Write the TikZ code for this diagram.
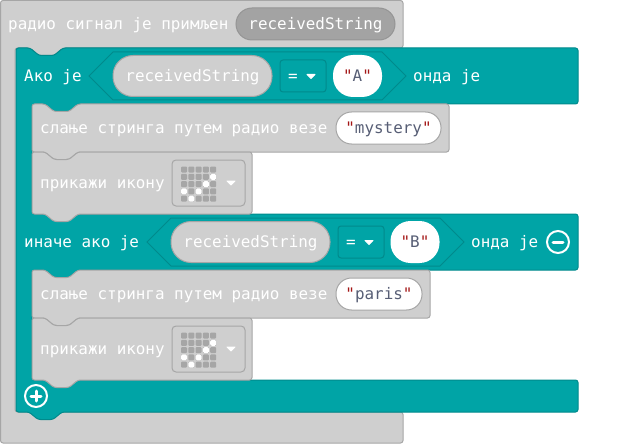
\documentclass[tikz,border=0pt]{standalone}
\usepackage{fontspec}
\usepackage{xcolor}
\setmonofont{DejaVu Sans Mono}
\definecolor{tealblk}{HTML}{00A4A6}
\definecolor{tealdark}{HTML}{008A8C}
\definecolor{greyblk}{HTML}{CFCFCF}
\definecolor{greydark}{HTML}{A6A6A6}
\definecolor{strred}{HTML}{A31515}
\definecolor{strtxt}{HTML}{575E75}
\newcommand{\notchin}{-- ++(9,7.5) -- ++(15,0) -- ++(9,-7.5)}
\newcommand{\notchout}{-- ++(-9,7.5) -- ++(-15,0) -- ++(-9,-7.5)}
\newcommand{\strval}[1]{{\color{strred}"}#1{\color{strred}"}}
\begin{document}
\begin{tikzpicture}[
  x=1pt, y=-1pt,
  txt/.style={font=\ttfamily\fontsize{15.9}{16}\selectfont, text=white, inner sep=0,
    text height=12pt, text depth=1pt},
  grblk/.style={draw=greydark, fill=greyblk, line width=1pt, rounded corners=2.5pt},
  tlblk/.style={draw=tealdark, fill=tealblk, line width=1pt, rounded corners=2.5pt},
  hexa/.style={draw=tealdark, fill=tealblk, line width=1pt},
  varpill/.style={txt, draw=greydark, fill=greyblk, line width=1pt, rounded corners=20pt,
    minimum width=159pt, minimum height=41pt},
  strpill/.style={txt, text=strtxt, draw=greydark, fill=white, line width=1pt,
    rounded corners=15.5pt, minimum height=32pt},
  strhex/.style={txt, text=strtxt, fill=white, rounded corners=20pt,
    minimum width=49pt, minimum height=42pt},
  opbox/.style={draw=tealdark, rounded corners=3pt, line width=1pt,
    minimum width=46pt, minimum height=32pt},
  iconbox/.style={draw=greydark, rounded corners=4pt, line width=1pt,
    minimum width=73pt, minimum height=46pt},
  ledoff/.style={fill=greydark, rounded corners=1pt},
  ledon/.style={fill=white, rounded corners=1.5pt},
  tri/.style={fill=white, draw=white, line width=1pt, line join=round},
  ring/.style={circle, draw=white, line width=2pt, minimum size=22pt, inner sep=0},
  bar/.style={draw=white, line width=3pt, line cap=round},
]
\useasboundingbox (0,0) rectangle (630,444);
% Hat block
\draw[grblk] (0.5,0.5) -- (403,0.5) -- (403,48) -- (63,48) \notchout -- (15,48) -- (15,412)
  -- (403,412) -- (403,443) -- (0.5,443) -- cycle;
\node[txt, anchor=west] (hatlbl) at (8,24) {радио сигнал је примљен};
\node[varpill, draw=black!10!greydark, fill=black!2!greydark, rounded corners=16pt, minimum height=32pt]
  (hatvar) at (315.5,24) {receivedString};
% If block
\draw[tlblk] (16,48) -- (30,48) \notchin -- (578,48) -- (578,104) -- (78,104) \notchout
  -- (32,104) -- (32,214) -- (578,214) -- (578,270) -- (78,270) \notchout
  -- (32,270) -- (32,380) -- (578,380) -- (578,412) -- (62,412) \notchout
  -- (16,412) -- cycle;
% Row if
\node[txt, anchor=west] (iflbl) at (24,76) {Ако је};
\draw[hexa] (89,76) -- (113,52) -- (382,52) -- (406,76) -- (382,100) -- (113,100) -- cycle;
\node[varpill] (ifvar) at (192.5,76) {receivedString};
\node[opbox] (ifop) at (303,76) {};
\node[txt] (ifeq) at (293,76) {=};
\draw[tri] (307,74.5) -- (315,74.5) -- (311,78.5) -- cycle;
\node[strhex] (ifstr) at (357.5,76) {\strval{A}};
\node[txt, anchor=west] (ifthen) at (413,76) {онда је};
% Row else if
\node[txt, anchor=west] (eliflbl) at (24,242) {иначе ако је};
\draw[hexa] (147,242) -- (171,218) -- (440,218) -- (464,242) -- (440,266) -- (171,266) -- cycle;
\node[varpill] (elifvar) at (250.5,242) {receivedString};
\node[opbox] (elifop) at (361,242) {};
\node[txt] (elifeq) at (351,242) {=};
\draw[tri] (365,240.5) -- (373,240.5) -- (369,244.5) -- cycle;
\node[strhex] (elifstr) at (415,242) {\strval{B}};
\node[txt, anchor=west] (elifthen) at (471,242) {онда је};
\node[ring] (minus) at (558,242) {};
\draw[bar] ([xshift=-5pt]minus.center) -- ([xshift=5pt]minus.center);
% Plus
\node[ring] (plus) at (36,396) {};
\draw[bar] ([xshift=-5pt]plus.center) -- ([xshift=5pt]plus.center);
\draw[bar] ([yshift=-5pt]plus.center) -- ([yshift=5pt]plus.center);
% Radio send 1
\draw[grblk] (32,104) -- (45,104) \notchin -- (449,104) -- (449,152) -- (78,152) \notchout
  -- (32,152) -- cycle;
\node[txt, anchor=west] (sendlbla) at (40,128) {слање стринга путем радио везе};
\node[strpill, minimum width=105pt] (sendstra) at (388.5,128) {\strval{mystery}};
% Show icon 1
\draw[grblk] (32,152) -- (45,152) \notchin -- (252,152) -- (252,214) -- (78,214) \notchout
  -- (32,214) -- cycle;
\node[txt, anchor=west] (iconlbla) at (40,183) {прикажи икону};
\node[iconbox] (iconboxa) at (208.5,183) {};
\begin{scope}[shift={(184,169.5)}]
  \foreach \c in {0,...,4} \foreach \r in {0,...,4}
    \fill[ledoff] (\c*7.3-3,\r*7.3-3) rectangle (\c*7.3+3,\r*7.3+3);
  \foreach \c/\r in {4/1,3/2,0/3,2/3,1/4}
    \fill[ledon] (\c*7.3-3,\r*7.3-3) rectangle (\c*7.3+3,\r*7.3+3);
\end{scope}
\draw[tri] (227,181) -- (235,181) -- (231,185) -- cycle;
% Radio send 2
\draw[grblk] (32,270) -- (45,270) \notchin -- (430,270) -- (430,318) -- (78,318) \notchout
  -- (32,318) -- cycle;
\node[txt, anchor=west] (sendlblb) at (40,294) {слање стринга путем радио везе};
\node[strpill, minimum width=86pt] (sendstrb) at (379,294) {\strval{paris}};
% Show icon 2
\draw[grblk] (32,318) -- (45,318) \notchin -- (252,318) -- (252,380) -- (78,380) \notchout
  -- (32,380) -- cycle;
\node[txt, anchor=west] (iconlblb) at (40,349) {прикажи икону};
\node[iconbox] (iconboxb) at (208.5,349) {};
\begin{scope}[shift={(184,335.5)}]
  \foreach \c in {0,...,4} \foreach \r in {0,...,4}
    \fill[ledoff] (\c*7.3-3,\r*7.3-3) rectangle (\c*7.3+3,\r*7.3+3);
  \foreach \c/\r in {4/1,3/2,0/3,2/3,1/4}
    \fill[ledon] (\c*7.3-3,\r*7.3-3) rectangle (\c*7.3+3,\r*7.3+3);
\end{scope}
\draw[tri] (227,347) -- (235,347) -- (231,351) -- cycle;
\end{tikzpicture}
\end{document}
